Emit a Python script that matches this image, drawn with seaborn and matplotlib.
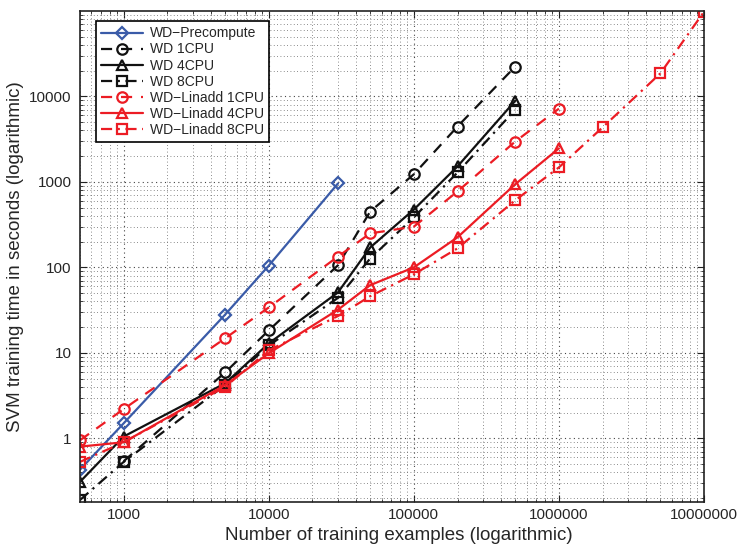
import numpy as np
import pandas as pd
import seaborn as sns
import matplotlib
matplotlib.use("Agg")
import matplotlib.pyplot as plt
from matplotlib.ticker import FixedLocator, LogLocator, NullFormatter

# training set sizes
n_small = [500, 1000, 5000, 10000, 30000]
n_wd = [500, 1000, 5000, 10000, 30000, 50000, 100000, 200000, 500000]
n_wd1 = [1000, 5000, 10000, 30000, 50000, 100000, 200000, 500000]
n_lin = [500, 1000, 5000, 10000, 30000, 50000, 100000, 200000, 500000, 1000000]
n_lin8 = n_lin + [2000000, 5000000, 10000000]

# training times in seconds
wd_precompute = [0.43, 1.5, 28, 105, 960]
wd_1cpu = [0.54, 5.9, 18.3, 106, 450, 1230, 4450, 22400]
wd_4cpu = [0.31, 1.05, 4.4, 12.9, 51, 171, 475, 1520, 8900]
wd_8cpu = [0.19, 0.53, 4.2, 12.2, 44, 127, 385, 1290, 7000]
lin_1cpu = [0.95, 2.2, 14.8, 34, 134, 250, 300, 775, 2970, 7200]
lin_4cpu = [0.8, 0.9, 4.2, 9.9, 32, 62, 100, 225, 940, 2470]
lin_8cpu = [0.53, 0.9, 4.0, 10.7, 27, 46, 83, 167, 610, 1480, 4350, 18600, 98000]

blue = "#3A5BA8"
red = "#EC1C24"
black = "#111111"

series = [
    ("WD\u2212Precompute", n_small, wd_precompute, blue, "-", "D"),
    ("WD 1CPU", n_wd1, wd_1cpu, black, (0, (5, 4)), "o"),
    ("WD 4CPU", n_wd, wd_4cpu, black, "-", "^"),
    ("WD 8CPU", n_wd, wd_8cpu, black, (0, (5, 2.5, 1, 2.5)), "s"),
    ("WD\u2212Linadd 1CPU", n_lin, lin_1cpu, red, (0, (5, 4)), "o"),
    ("WD\u2212Linadd 4CPU", n_lin, lin_4cpu, red, "-", "^"),
    ("WD\u2212Linadd 8CPU", n_lin8, lin_8cpu, red, (0, (5, 2.5, 1, 2.5)), "s"),
]

sns.set_style("ticks")
plt.rcParams["font.family"] = ["Liberation Sans", "DejaVu Sans"]

fig = plt.figure(figsize=(7.41, 5.46), dpi=100)
ax = fig.add_axes([80 / 741, 1 - 502 / 546, 624 / 741, 491 / 546])

for label, xs, ys, color, ls, mk in series:
    df = pd.DataFrame({"n": xs, "t": ys})
    sns.lineplot(data=df, x="n", y="t", ax=ax, color=color, linestyle=ls,
                 marker=mk, markersize=7.5 if mk != "D" else 6,
                 markerfacecolor="none", markeredgecolor=color,
                 markeredgewidth=1.6, linewidth=1.6, label=label,
                 sort=False, estimator=None)

ax.set_xscale("log")
ax.set_yscale("log")
ax.set_xlim(500, 10000000)
ax.set_ylim(0.18, 100000)

xt = [1000, 10000, 100000, 1000000, 10000000]
yt = [1, 10, 100, 1000, 10000]
ax.xaxis.set_major_locator(FixedLocator(xt))
ax.set_xticklabels([str(v) for v in xt])
ax.yaxis.set_major_locator(FixedLocator(yt))
ax.set_yticklabels([str(v) for v in yt])
ax.xaxis.set_minor_locator(LogLocator(base=10, subs=np.arange(2, 10), numticks=20))
ax.yaxis.set_minor_locator(LogLocator(base=10, subs=np.arange(2, 10), numticks=20))
ax.xaxis.set_minor_formatter(NullFormatter())
ax.yaxis.set_minor_formatter(NullFormatter())

ax.tick_params(which="both", direction="in", top=True, right=True,
               labelsize=11, color="#222222")
ax.tick_params(which="major", length=5, width=0.8)
ax.tick_params(which="minor", length=2.5, width=0.6)
ax.tick_params(axis="x", pad=4)
ax.tick_params(axis="y", pad=6)

ax.grid(True, which="major", linestyle=(0, (1, 3)), color="#444444", linewidth=0.8)
ax.grid(True, which="minor", linestyle=(0, (1, 3)), color="#666666", linewidth=0.6)
ax.set_axisbelow(True)

for sp in ax.spines.values():
    sp.set_visible(True)
    sp.set_color("#222222")
    sp.set_linewidth(1.2)

ax.set_xlabel("Number of training examples (logarithmic)", fontsize=13.5)
ax.xaxis.set_label_coords(0.511, -0.05)
ax.set_ylabel("SVM training time in seconds (logarithmic)", fontsize=13.5)
ax.yaxis.set_label_coords(-0.09, 0.5)

leg = ax.legend(loc="upper left", bbox_to_anchor=(0.025, 0.98), fontsize=10,
                frameon=True, fancybox=False, edgecolor="black", framealpha=1,
                handlelength=3, labelspacing=0.15, borderpad=0.4, handletextpad=0.5,
                borderaxespad=0)
leg.get_frame().set_linewidth(1.2)

fig.savefig("out.png", dpi=100)
